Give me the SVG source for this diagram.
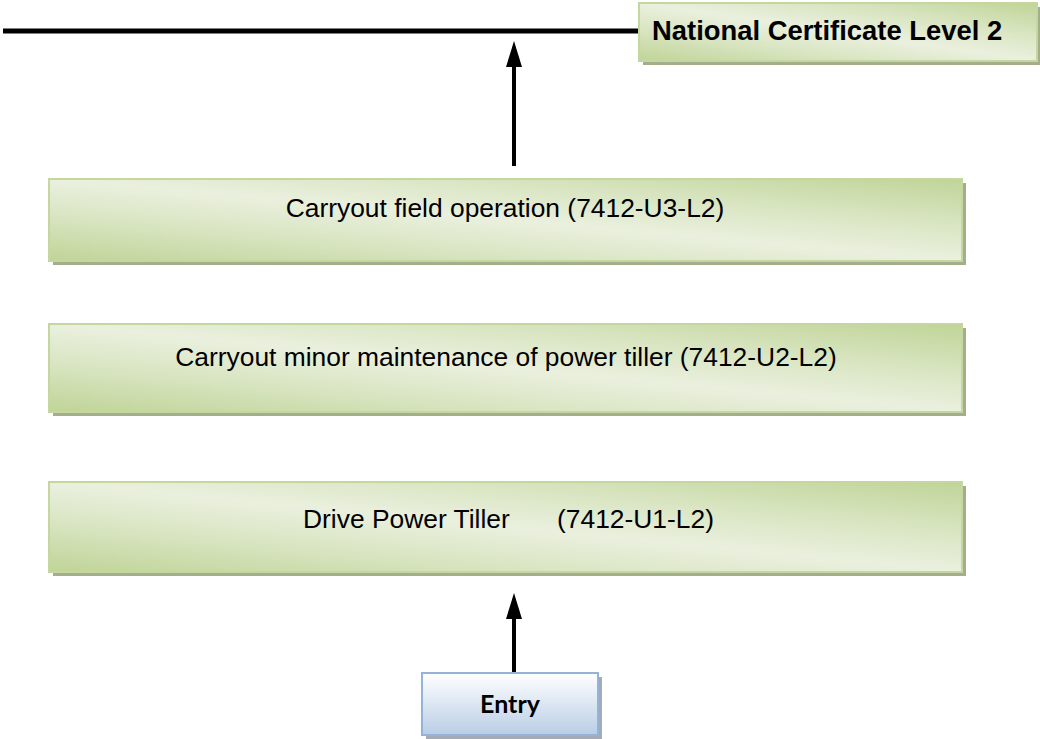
<svg xmlns="http://www.w3.org/2000/svg" width="1040" height="739" viewBox="0 0 1040 739">
<style>
.box{fill:url(#gGreen);stroke:#c4d79e;stroke-width:2}
.shadow{fill:#a4ae8c}
.shadowB{fill:#a3abb8}
.lbl{font-family:"Liberation Sans",Arial,sans-serif;font-size:26.4px;fill:#000}
.bold{font-weight:bold;font-size:27.4px}
.entry{font-family:Lato,"Open Sans",sans-serif;font-weight:bold;font-size:25px;fill:#000}
.conn{stroke:#000;stroke-width:4;fill:none}
</style>
<defs>
<linearGradient id="gGreen" x1="0" y1="1" x2="1" y2="0">
<stop offset="0" stop-color="#c0d497"/>
<stop offset="0.28" stop-color="#d9e5c2"/>
<stop offset="0.5" stop-color="#eaf0de"/>
<stop offset="0.72" stop-color="#d9e5c2"/>
<stop offset="1" stop-color="#c0d497"/>
</linearGradient>
<linearGradient id="gBlue" x1="0" y1="0" x2="0" y2="1">
<stop offset="0" stop-color="#ffffff"/>
<stop offset="1" stop-color="#b9cde5"/>
</linearGradient>
</defs>

<g id="connectors">
<line x1="3" y1="31" x2="640" y2="31" stroke="#000" stroke-width="5"/>
<line class="conn" x1="514" y1="166" x2="514" y2="66"/>
<path d="M514 41 L522 67 L506 67 Z" fill="#000"/>
<line class="conn" x1="514" y1="674" x2="514" y2="618"/>
<path d="M514 593 L522 619 L506 619 Z" fill="#000"/>
</g>

<g id="node-nc">
<rect class="shadow" x="643" y="7" width="398" height="58"/>
<rect class="box" x="639" y="3" width="398" height="58"/>
<text class="lbl bold" x="652" y="40">National Certificate Level 2</text>
</g>

<g id="node-u3">
<rect class="shadow" x="53" y="183" width="913" height="82"/>
<rect class="box" x="49" y="179" width="913" height="82"/>
<text class="lbl" x="505" y="217" text-anchor="middle">Carryout field operation (7412-U3-L2)</text>
</g>

<g id="node-u2">
<rect class="shadow" x="53" y="328" width="913" height="88"/>
<rect class="box" x="49" y="324" width="913" height="88"/>
<text class="lbl" x="506" y="366" text-anchor="middle">Carryout minor maintenance of power tiller (7412-U2-L2)</text>
</g>

<g id="node-u1">
<rect class="shadow" x="53" y="486" width="913" height="90"/>
<rect class="box" x="49" y="482" width="913" height="90"/>
<text class="lbl" x="303" y="528">Drive Power Tiller</text>
<text class="lbl" x="557" y="528">(7412-U1-L2)</text>
</g>

<g id="node-entry">
<rect class="shadowB" x="426" y="677" width="176" height="62"/>
<rect x="422" y="673" width="176" height="62" fill="url(#gBlue)" stroke="#95b3d7" stroke-width="2"/>
<text class="entry" x="510" y="713" text-anchor="middle">Entry</text>
</g>
</svg>
